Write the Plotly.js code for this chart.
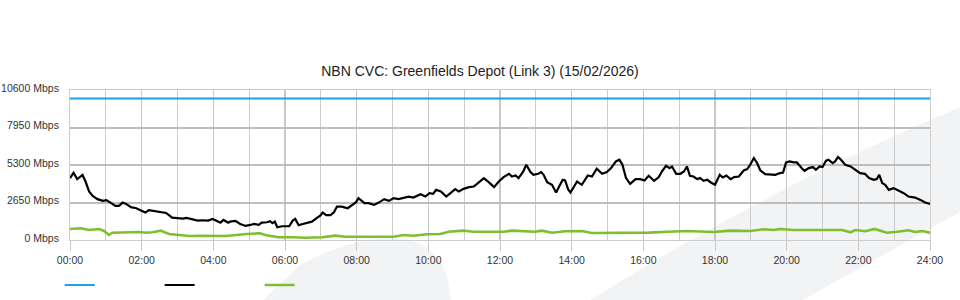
<!DOCTYPE html>
<html>
<head>
<meta charset="utf-8">
<script src="https://cdn.plot.ly/plotly-3.0.1.min.js"></script>
<style>html,body{margin:0;padding:0;background:#fff;}#chart{width:960px;height:300px;}</style>
</head>
<body>
<div id="chart"></div>
<script>
// ---- data (minutes since 00:00, Mbps) ----
const capacityTimes = [0, 1440];
const capacityValues = [10000, 10000];

const trafficTimes = [0,6,12,21,26,32,38,46,55,61,69,76,82,88,94,102,111,119,126,132,141,150,161,171,180,189,195,204,214,222,231,239,
246,252,257,265,268,277,285,294,302,308,316,321,330,335,339,343,347,355,367,373,377,383,388,400,405,414,419,423,429,436,442,447,455,465,472,479,483,
486,493,500,509,517,526,534,542,550,559,567,575,587,595,602,608,613,621,630,637,645,651,659,668,676,683,693,703,710,718,726,
735,740,746,751,759,764,771,776,784,789,793,799,807,814,819,825,829,834,838,843,849,857,867,874,882,891,899,906,914,920,925,931,938,947,955,962,969,
978,986,991,998,1004,1008,1015,1022,1028,1033,1038,1044,1050,1055,1061,1067,1073,1080,1088,1093,1099,1106,1112,1120,1128,1134,1139,1145,1150,1156,1164,1173,1181,1189,1194,1199,1205,1212,
1217,1225,1230,1237,1244,1249,1255,1260,1266,1270,1277,1281,1286,1291,1298,1307,1315,1323,1331,1338,1346,1351,1355,1360,1365,1371,1379,1388,1396,1404,1415,1424,1432,1440];
const trafficValues = [4375,4750,4304,4594,4133,3424,3120,2886,2765,2815,2602,2411,2411,2645,2552,2318,2248,2056,1936,2106,2056,1964,1914,1581,1560,1510,1560,1468,1368,1397,1368,1489,
1347,1227,1418,1227,1297,1347,1134,993,1064,1134,1064,1227,1255,1326,1184,1297,900,971,971,1368,1489,1042,1113,1227,1297,1581,1723,1936,1751,1751,1964,2361,2361,2248,2482,2673,2957,
2836,2602,2602,2482,2645,2886,2765,2957,2886,2999,3070,2999,3240,3070,3311,3261,3545,3424,3070,3311,3595,3424,3616,3736,3779,4020,4375,4020,3736,4133,4445,
4679,4488,4559,4375,4842,5318,4800,4609,4679,4800,4609,4091,3900,3354,3779,4254,4204,3595,3354,3666,4133,3900,4559,4488,5034,4679,4800,5084,5551,5672,5318,4375,3970,4304,4304,4204,4538,
4183,4445,4842,5247,5084,5197,4679,4679,4842,5197,4538,4488,4304,4375,4183,4254,4063,3900,4609,4417,4559,4304,4445,4488,4913,5013,5318,5793,5481,4913,4658,4609,4609,4729,4772,5481,5551,5481,
5481,5084,4892,5084,5154,4963,5197,5154,5601,5672,5438,5551,5863,5672,5318,5197,4963,4729,4679,4375,4254,4304,4609,4020,3900,3545,3666,3474,3311,3070,2999,2836,2645,2552];

const uploadTimes = [0,18,32,49,57,65,71,94,116,127,138,152,166,183,200,216,239,260,296,318,327,349,372,394,422,444,461,483,509,542,559,575,598,620,634,659,676,726,
740,757,779,790,807,829,857,874,919,969,1000,1033,1078,1106,1139,1162,1178,1189,1212,1237,1265,1293,1307,1315,1332,1347,1357,1368,1385,1404,1415,1427,1440];
const uploadValues = [780,830,709,780,638,355,518,546,567,518,546,659,425,355,284,305,284,284,425,475,355,191,191,163,191,305,234,234,234,234,355,305,404,425,588,659,588,588,
659,638,588,659,518,617,638,496,496,518,588,638,567,659,638,759,709,780,709,688,709,709,546,709,617,780,659,518,588,688,567,638,518];

const tickVals = [0,120,240,360,480,600,720,840,960,1080,1200,1320,1440];
const tickLabels = ['00:00','02:00','04:00','06:00','08:00','10:00','12:00','14:00','16:00','18:00','20:00','22:00','24:00'];
const yTickVals = [0,2650,5300,7950,10600];
const yTickLabels = ['0 Mbps','2650 Mbps','5300 Mbps','7950 Mbps','10600 Mbps'];
const chartTitle = 'NBN CVC: Greenfields Depot (Link 3) (15/02/2026)';

const FONT = 'Liberation Sans, Arial, sans-serif';

const traces = [
  {x: capacityTimes, y: capacityValues, type: 'scatter', mode: 'lines', name: ' ',
   line: {color: '#1fa0e2', width: 2}},
  {x: trafficTimes, y: trafficValues, type: 'scatter', mode: 'lines', name: ' ',
   line: {color: '#000000', width: 2.2}},
  {x: uploadTimes, y: uploadValues, type: 'scatter', mode: 'lines', name: ' ',
   line: {color: '#7fbf2e', width: 2.6}}
];

const layout = {
  width: 960, height: 300,
  margin: {l: 70, r: 30, t: 90, b: 60, pad: 0, autoexpand: false},
  paper_bgcolor: '#ffffff',
  plot_bgcolor: 'rgba(0,0,0,0)',
  font: {family: FONT, size: 10.5, color: '#333333'},
  title: {text: chartTitle, font: {family: FONT, size: 14, color: '#222222'},
          x: 0.5, xanchor: 'center', y: 0.763, yanchor: 'middle'},
  showlegend: true,
  legend: {orientation: 'h', x: -0.012, xanchor: 'left', y: -0.3, yanchor: 'middle',
           entrywidth: 55, entrywidthmode: 'pixels', itemwidth: 30,
           bgcolor: 'rgba(0,0,0,0)', font: {size: 10.5}},
  xaxis: {range: [0, 1440], tickmode: 'array', tickvals: tickVals, ticktext: tickLabels,
          ticks: 'outside', ticklen: 10, tickcolor: '#c8c8c8', tickwidth: 1,
          showgrid: true, gridcolor: '#c8c8c8', gridwidth: 1.3,
          minor: {tickmode: 'linear', tick0: 0, dtick: 60, showgrid: true, gridcolor: '#cccccc', gridwidth: 1.3, ticks: ''},
          showline: true, mirror: true, linecolor: '#cccccc', linewidth: 1,
          zeroline: false, fixedrange: true,
          tickfont: {family: FONT, size: 10.5, color: '#333333'}},
  yaxis: {range: [0, 10600], tickmode: 'array', tickvals: yTickVals, ticktext: yTickLabels,
          ticks: '', ticklabelstandoff: 8, ticklabelshift: -2,
          showgrid: true, gridcolor: '#bdbdbd', gridwidth: 2,
          showline: true, mirror: true, linecolor: '#cccccc', linewidth: 1,
          zeroline: false, fixedrange: true,
          tickfont: {family: FONT, size: 10.5, color: '#333333'}},
  shapes: [
    {type: 'path', xref: 'paper', yref: 'paper', layer: 'below', line: {width: 0},
     fillcolor: '#f2f3f5',
     path: 'M 0.2128 -0.4667 L 0.2674 -0.1667 Q 0.3372 0.0533 0.3953 0 Q 0.4302 -0.0667 0.4395 -0.2667 L 0.4442 -0.4667 Z'},
    {type: 'path', xref: 'paper', yref: 'paper', layer: 'below', line: {width: 0},
     fillcolor: '#f2f3f5',
     path: 'M 0.5866 -0.4667 Q 0.8035 0.3267 1.0349 0.8867 L 1.0814 1.0 L 1.0814 0.3367 L 0.8314 -0.4667 Z'}
  ]
};

Plotly.newPlot('chart', traces, layout, {displayModeBar: false, staticPlot: true});
</script>
</body>
</html>
